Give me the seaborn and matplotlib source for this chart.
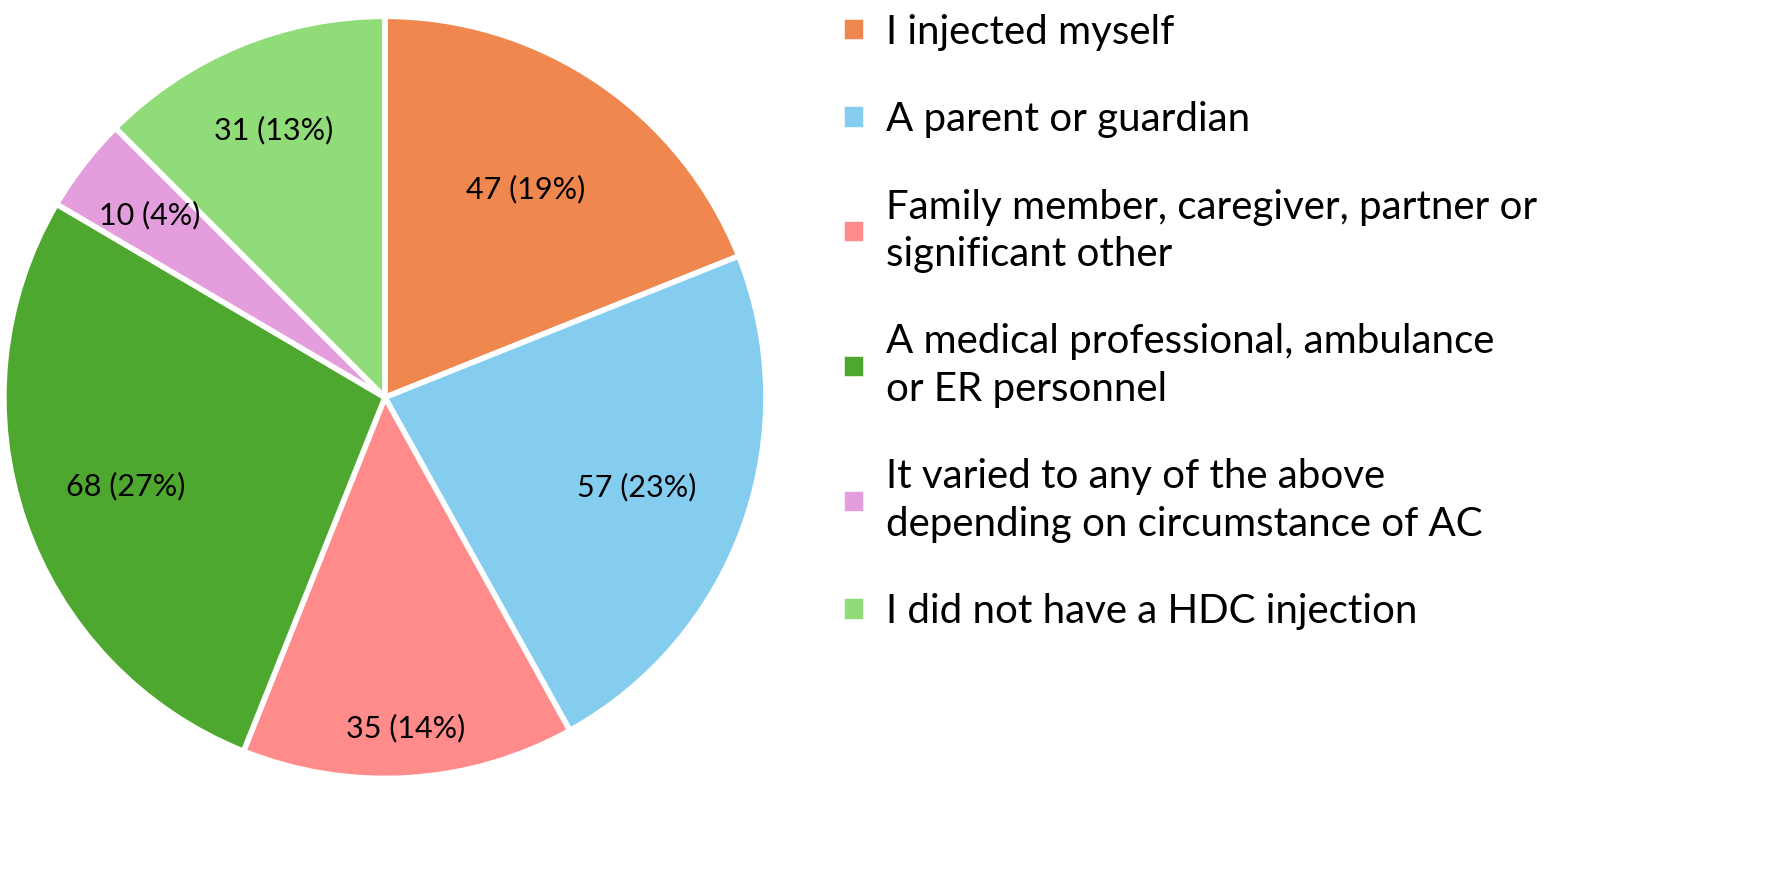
import matplotlib
matplotlib.use("Agg")
import matplotlib.pyplot as plt
import numpy as np
import seaborn as sns

categories = ["I injected myself", "A parent or guardian",
              "Family member, caregiver, partner or\nsignificant other",
              "A medical professional, ambulance\nor ER personnel",
              "It varied to any of the above\ndepending on circumstance of AC",
              "I did not have a HDC injection"]
counts = [47, 57, 35, 68, 10, 31]
percents = [19, 23, 14, 27, 4, 13]
colors = ["#F0874F", "#85CDEE", "#FF8B8B", "#4EA72E", "#E59EDD", "#8FDC79"]

sns.set_theme(style="white")
plt.rcParams["font.family"] = "Lato"

fig = plt.figure(figsize=(17.82, 8.94), dpi=100)
ax = fig.add_axes([0.0, 0.125, 0.432, 0.861])
labels = [f"{c} ({p}%)" for c, p in zip(counts, percents)]
wedges, _ = ax.pie(counts, colors=colors, startangle=90, counterclock=False,
                   wedgeprops=dict(edgecolor="white", linewidth=4))
dist = [0.66, 0.7, 0.87, 0.72, 0.78, 0.76]
for w, lab, d in zip(wedges, labels, dist):
    a = np.deg2rad((w.theta1 + w.theta2) / 2)
    ax.text(d * np.cos(a), d * np.sin(a), lab, ha="center", va="center",
            fontsize=22, color="black")
ax.set_aspect("equal")
ax.set_xlim(-1.01, 1.01)
ax.set_ylim(-1.01, 1.01)

leg = fig.legend(wedges, categories, loc="upper left",
                 bbox_to_anchor=(0.452, 1.025), frameon=False, fontsize=29,
                 handlelength=0.6, handleheight=0.6, handletextpad=0.5,
                 labelspacing=1.25)
for t in leg.get_texts():
    t.set_color("black")
    t.set_linespacing(1.35)
fig.savefig("out.png", dpi=100)
